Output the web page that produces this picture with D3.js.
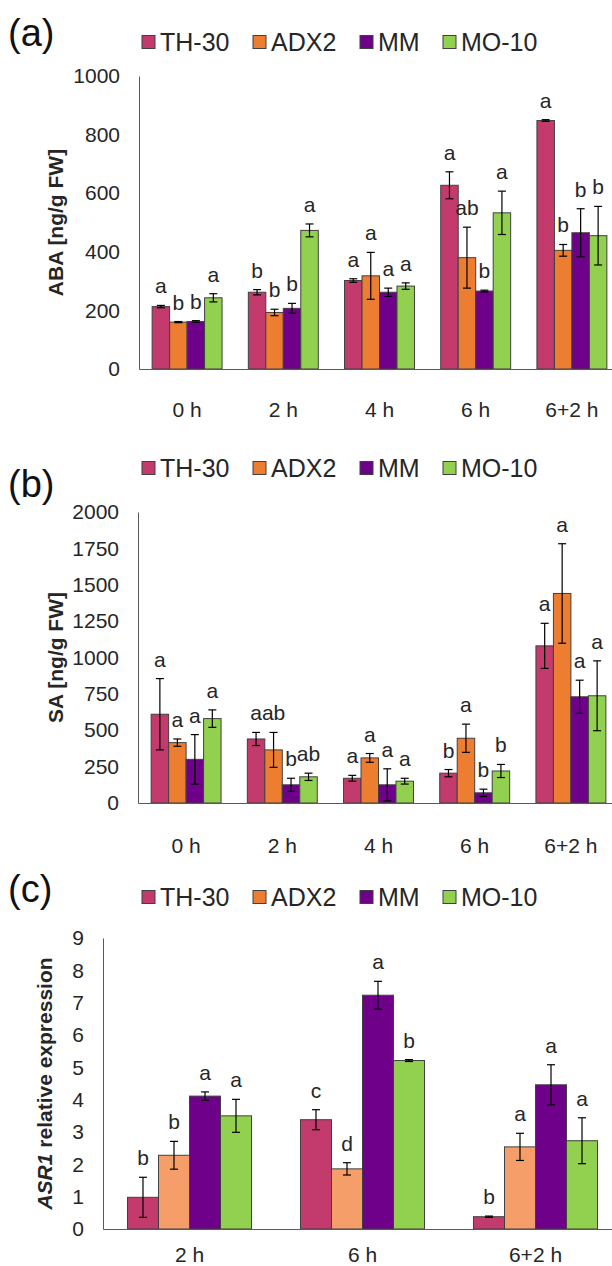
<!DOCTYPE html>
<html>
<head>
<meta charset="utf-8">
<script src="https://cdn.jsdelivr.net/npm/d3@7"></script>
<style>
  body { margin: 0; background: #fff; }
  svg { display: block; font-family: 'Liberation Sans', Arial, sans-serif; }
</style>
</head>
<body>
<div id="chart"></div>
<script>
// genotypes (series) and sampling times
const genotypes = ['TH-30', 'ADX2', 'MM', 'MO-10'];
const timesAB = ['0 h', '2 h', '4 h', '6 h', '6+2 h'];
const timesC = ['2 h', '6 h', '6+2 h'];

// (a) ABA [ng/g FW], rows = genotypes, cols = times
const abaMean = [
  [213, 262, 302, 627, 848],
  [160, 193, 318, 380, 405],
  [162, 207, 262, 266, 465],
  [243, 473, 283, 533, 455]
];
const abaErr = [
  [4, 9, 6, 46, 3],
  [2, 11, 80, 104, 20],
  [3, 17, 14, 3, 82],
  [14, 22, 11, 74, 100]
];
const abaLetters = [
  ['a', 'b', 'a', 'a', 'a'],
  ['b', 'b', 'a', 'ab', 'b'],
  ['b', 'b', 'a', 'b', 'b'],
  ['a', 'a', 'a', 'a', 'b']
];
const abaTicks = [0, 200, 400, 600, 800, 1000];

// (b) SA [ng/g FW]
const saMean = [
  [610, 440, 170, 205, 1080],
  [415, 365, 310, 445, 1440],
  [300, 125, 125, 70, 730],
  [580, 180, 150, 220, 737]
];
const saErr = [
  [245, 45, 20, 25, 155],
  [25, 120, 30, 97, 342],
  [170, 45, 110, 25, 114],
  [60, 25, 20, 45, 240]
];
const saLetters = [
  ['a', 'a', 'a', 'b', 'a'],
  ['a', 'ab', 'a', 'a', 'a'],
  ['a', 'b', 'a', 'b', 'a'],
  ['a', 'ab', 'a', 'b', 'a']
];
const saTicks = [0, 250, 500, 750, 1000, 1250, 1500, 1750, 2000];

// (c) ASR1 relative expression
const asrMean = [
  [0.98, 3.38, 0.38],
  [2.28, 1.86, 2.54],
  [4.11, 7.23, 4.46],
  [3.50, 5.21, 2.73]
];
const asrErr = [
  [0.62, 0.31, 0.02],
  [0.43, 0.19, 0.42],
  [0.13, 0.43, 0.62],
  [0.51, 0.03, 0.71]
];
const asrLetters = [
  ['b', 'c', 'b'],
  ['b', 'd', 'a'],
  ['a', 'a', 'a'],
  ['a', 'b', 'a']
];
const asrTicks = [0, 1, 2, 3, 4, 5, 6, 7, 8, 9];

const legendColors = ['#C33B6C', '#ED7D31', '#6E0089', '#92D050'];
const barColorsC = ['#C33B6C', '#F59E6A', '#6E0089', '#92D050'];

const W = 612, H = 1266;
const textColor = '#262626';
const axisColor = '#595959';
const font = "'Liberation Sans', Arial, sans-serif";

const svg = d3.select('#chart').append('svg')
  .attr('width', W)
  .attr('height', H);

function drawPanel(p) {
  const g = svg.append('g').attr('class', 'panel');

  // panel tag
  g.append('text')
    .attr('x', 8)
    .attr('y', p.tagY)
    .attr('font-size', 38)
    .attr('fill', '#111')
    .text(p.tag);

  // legend
  const legendX = [142, 253, 360, 443];
  const leg = g.selectAll('.leg').data(genotypes).enter().append('g')
    .attr('transform', (d, i) => `translate(${legendX[i]},${p.legendY})`);
  leg.append('rect')
    .attr('x', 0).attr('y', -6.5)
    .attr('width', 13).attr('height', 13)
    .attr('fill', (d, i) => legendColors[i])
    .attr('stroke', '#404040').attr('stroke-width', 1);
  leg.append('text')
    .attr('x', 18).attr('y', 0).attr('dy', '0.36em')
    .attr('font-size', 25)
    .attr('fill', textColor)
    .text(d => d);

  const x0 = d3.scaleBand()
    .domain(p.cats)
    .range([p.axisX, p.xEnd])
    .paddingInner(p.padIn)
    .paddingOuter(p.padIn / 2);
  const x1 = d3.scaleBand()
    .domain(d3.range(genotypes.length))
    .range([0, x0.bandwidth()]);
  const y = d3.scaleLinear()
    .domain([0, p.max])
    .range([p.yBottom, p.yTop]);

  // flatten to one record per bar
  const bars = [];
  p.means.forEach((row, s) => row.forEach((v, t) => {
    bars.push({ s, t, v, e: p.errs[s][t], lab: p.letters[s][t] });
  }));

  const bx = d => x0(p.cats[d.t]) + x1(d.s);
  const bw = x1.bandwidth();

  g.append('g').selectAll('rect').data(bars).enter().append('rect')
    .attr('x', bx)
    .attr('y', d => y(d.v))
    .attr('width', bw)
    .attr('height', d => y(0) - y(d.v))
    .attr('fill', d => p.colors[d.s])
    .attr('stroke', '#404040')
    .attr('stroke-width', 1);

  // error bars
  const eb = g.append('g').selectAll('g').data(bars).enter().append('g')
    .attr('stroke', '#000').attr('stroke-width', 1.2);
  eb.append('line')
    .attr('x1', d => bx(d) + bw / 2).attr('x2', d => bx(d) + bw / 2)
    .attr('y1', d => y(d.v + d.e)).attr('y2', d => y(d.v - d.e));
  eb.append('line')
    .attr('x1', d => bx(d) + bw / 2 - 4).attr('x2', d => bx(d) + bw / 2 + 4)
    .attr('y1', d => y(d.v + d.e)).attr('y2', d => y(d.v + d.e));
  eb.append('line')
    .attr('x1', d => bx(d) + bw / 2 - 4).attr('x2', d => bx(d) + bw / 2 + 4)
    .attr('y1', d => y(d.v - d.e)).attr('y2', d => y(d.v - d.e));

  // significance letters
  g.append('g').selectAll('text').data(bars).enter().append('text')
    .attr('x', d => bx(d) + bw / 2)
    .attr('y', d => y(d.v + d.e) - 12)
    .attr('text-anchor', 'middle')
    .attr('font-size', 21)
    .attr('fill', textColor)
    .text(d => d.lab);

  // y axis
  const ya = g.append('g')
    .attr('transform', `translate(${p.axisX},0)`)
    .call(d3.axisLeft(y).tickValues(p.ticks).tickFormat(d3.format('d')).tickSize(0).tickPadding(19));
  ya.select('.domain').attr('stroke', axisColor);
  ya.selectAll('text').attr('font-size', 21).attr('fill', textColor).attr('font-family', font);

  // x axis
  const xa = g.append('g')
    .attr('transform', `translate(0,${p.yBottom})`)
    .call(d3.axisBottom(x0).tickSize(0).tickPadding(p.catPad));
  xa.select('.domain').attr('stroke', axisColor);
  xa.selectAll('text').attr('font-size', 21).attr('fill', textColor).attr('font-family', font);

  // y title
  const t = g.append('text')
    .attr('transform', `translate(${p.titleX},${(p.yTop + p.yBottom) / 2}) rotate(-90)`)
    .attr('text-anchor', 'middle')
    .attr('font-size', p.titleSize)
    .attr('font-weight', 'bold')
    .attr('fill', textColor);
  p.title.forEach(part => {
    t.append('tspan').attr('font-style', part.italic ? 'italic' : 'normal').text(part.text);
  });
}

drawPanel({
  tag: '(a)', tagY: 46, legendY: 42,
  axisX: 139, xEnd: 620, padIn: 0.273,
  yTop: 76, yBottom: 369, max: 1000, ticks: abaTicks,
  cats: timesAB, means: abaMean, errs: abaErr, letters: abaLetters,
  colors: legendColors, catPad: 33,
  title: [{ text: 'ABA [ng/g FW]' }], titleX: 63, titleSize: 21
});

drawPanel({
  tag: '(b)', tagY: 497, legendY: 468,
  axisX: 138, xEnd: 619, padIn: 0.273,
  yTop: 512, yBottom: 803, max: 2000, ticks: saTicks,
  cats: timesAB, means: saMean, errs: saErr, letters: saLetters,
  colors: legendColors, catPad: 35,
  title: [{ text: 'SA [ng/g FW]' }], titleX: 63, titleSize: 21
});

drawPanel({
  tag: '(c)', tagY: 902, legendY: 897,
  axisX: 103, xEnd: 622, padIn: 0.283,
  yTop: 938, yBottom: 1229, max: 9, ticks: asrTicks,
  cats: timesC, means: asrMean, errs: asrErr, letters: asrLetters,
  colors: barColorsC, catPad: 18,
  title: [{ text: 'ASR1', italic: true }, { text: ' relative expression' }], titleX: 52, titleSize: 21
});
</script>
</body>
</html>
